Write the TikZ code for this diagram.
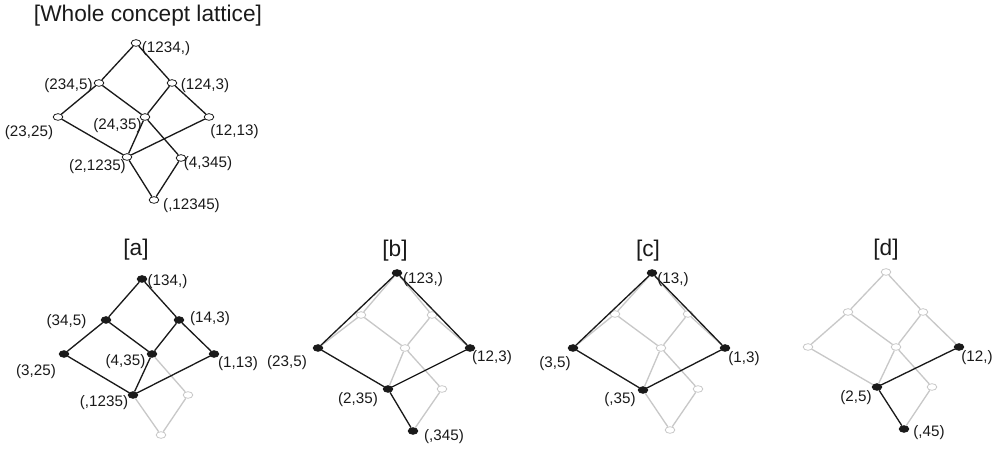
\documentclass[tikz,border=0pt]{standalone}
\usepackage{fontspec}
\setmainfont{Liberation Sans}
\usepackage{tikz}
\usetikzlibrary{shapes.geometric}
\definecolor{latGray}{HTML}{C8C8C8}
\definecolor{latInk}{HTML}{1A1A1A}

\begin{document}
\begin{tikzpicture}[
  x=0.75pt, y=-0.75pt,
  concept/.style={ellipse, inner sep=0pt, minimum width=7.2pt, minimum height=5pt,
    line width=0.6pt},
  open/.style={concept, draw=latInk, fill=white},
  on/.style={concept, draw=latInk, fill=latInk},
  off/.style={concept, draw=latGray, fill=white},
  edge/.style={line width=1pt, latInk},
  faded/.style={line width=1pt, latGray},
  lbl/.style={font=\fontsize{11.4}{13}\selectfont, inner sep=0pt, text=latInk},
  ttl/.style={font=\fontsize{17}{20}\selectfont, inner sep=0pt, text=latInk}]

  \useasboundingbox (0,0) rectangle (1000,452);

  % Whole lattice
  \node[ttl] (wttl) at (148,16) {[Whole concept lattice]};
  \node[open] (wT) at (136,43) {};
  \node[open] (wA) at (99,83) {};   \node[open] (wB) at (172,83) {};
  \node[open] (wC) at (58,117) {};  \node[open] (wD) at (145,117) {};
  \node[open] (wE) at (209,117) {};
  \node[open] (wF) at (127,157) {}; \node[open] (wG) at (181,158) {};
  \node[open] (wH) at (154,200) {};
  \foreach \u/\v in {T/A,T/B,A/C,A/D,B/D,B/E,C/F,D/F,E/F,D/G,F/H,G/H}
    \draw[edge] (w\u) -- (w\v);
  \node[lbl] (lwT) at (166,49) {(1234,)};
  \node[lbl] (lwA) at (68.5,86) {(234,5)};
  \node[lbl] (lwB) at (205,86) {(124,3)};
  \node[lbl] (lwC) at (29,133) {(23,25)};
  \node[lbl] (lwD) at (117.5,126) {(24,35)};
  \node[lbl] (lwE) at (234.5,132) {(12,13)};
  \node[lbl] (lwF) at (97.5,167) {(2,1235)};
  \node[lbl] (lwG) at (208,164) {(4,345)};
  \node[lbl] (lwH) at (191.5,206) {(,12345)};

  % [a]
  \node[ttl] (attl) at (136,250) {[a]};
  \node[on] (aT) at (142,279) {};
  \node[on] (aA) at (106,320) {};   \node[on] (aB) at (179,320) {};
  \node[on] (aC) at (64,354) {};    \node[on] (aD) at (152,354) {};
  \node[on] (aE) at (214,354) {};
  \node[on] (aF) at (133,395) {};   \node[off] (aG) at (188,395) {};
  \node[off] (aH) at (161,435) {};
  \foreach \u/\v in {D/G,F/H,G/H}
    \draw[faded] (a\u) -- (a\v);
  \foreach \u/\v in {T/A,T/B,A/C,A/D,B/D,B/E,C/F,D/F,E/F}
    \draw[edge] (a\u) -- (a\v);
  \node[lbl] (laT) at (167.5,282) {(134,)};
  \node[lbl] (laA) at (66.5,322) {(34,5)};
  \node[lbl] (laB) at (210,319) {(14,3)};
  \node[lbl] (laC) at (36,372) {(3,25)};
  \node[lbl] (laD) at (125.5,362) {(4,35)};
  \node[lbl] (laE) at (238,364) {(1,13)};
  \node[lbl] (laF) at (104,403) {(,1235)};

  % [b]
  \node[ttl] (bttl) at (395,251) {[b]};
  \node[on] (bT) at (397,273) {};
  \node[off] (bA) at (361,315) {};  \node[off] (bB) at (432,315) {};
  \node[on] (bC) at (318,348) {};   \node[off] (bD) at (405,348) {};
  \node[on] (bE) at (470,348) {};
  \node[on] (bF) at (388,389) {};   \node[off] (bG) at (442,389) {};
  \node[on] (bH) at (413,431) {};
  \foreach \u/\v in {T/A,T/B,A/C,A/D,B/D,B/E,D/F,D/G,G/H}
    \draw[faded] (b\u) -- (b\v);
  \foreach \u/\v in {T/C,T/E,C/F,E/F,F/H}
    \draw[edge] (b\u) -- (b\v);
  \node[lbl] (lbT) at (423,280) {(123,)};
  \node[lbl] (lbC) at (287,363) {(23,5)};
  \node[lbl] (lbE) at (492,358) {(12,3)};
  \node[lbl] (lbF) at (358,400) {(2,35)};
  \node[lbl] (lbH) at (444,437) {(,345)};

  % [c]
  \node[ttl] (cttl) at (648,251) {[c]};
  \node[on] (cT) at (652,273) {};
  \node[off] (cA) at (615,314) {};  \node[off] (cB) at (688,314) {};
  \node[on] (cC) at (573,348) {};   \node[off] (cD) at (661,348) {};
  \node[on] (cE) at (725,348) {};
  \node[on] (cF) at (643,390) {};   \node[off] (cG) at (698,389) {};
  \node[off] (cH) at (670,430) {};
  \foreach \u/\v in {T/A,T/B,A/C,A/D,B/D,B/E,D/F,D/G,F/H,G/H}
    \draw[faded] (c\u) -- (c\v);
  \foreach \u/\v in {T/C,T/E,C/F,E/F}
    \draw[edge] (c\u) -- (c\v);
  \node[lbl] (lcT) at (673,280) {(13,)};
  \node[lbl] (lcC) at (555,364) {(3,5)};
  \node[lbl] (lcE) at (744,359) {(1,3)};
  \node[lbl] (lcF) at (620,400) {(,35)};

  % [d]
  \node[ttl] (dttl) at (886,250) {[d]};
  \node[off] (dT) at (886,272) {};
  \node[off] (dA) at (848,312) {};  \node[off] (dB) at (923,312) {};
  \node[off] (dC) at (808,347) {};  \node[off] (dD) at (896,347) {};
  \node[on] (dE) at (959,347) {};
  \node[on] (dF) at (877,387) {};   \node[off] (dG) at (932,387) {};
  \node[on] (dH) at (904,429) {};
  \foreach \u/\v in {T/A,T/B,A/C,A/D,B/D,B/E,C/F,D/F,D/G,G/H}
    \draw[faded] (d\u) -- (d\v);
  \foreach \u/\v in {E/F,F/H}
    \draw[edge] (d\u) -- (d\v);
  \node[lbl] (ldE) at (977,358) {(12,)};
  \node[lbl] (ldF) at (856,398) {(2,5)};
  \node[lbl] (ldH) at (929,433) {(,45)};
\end{tikzpicture}
\end{document}
